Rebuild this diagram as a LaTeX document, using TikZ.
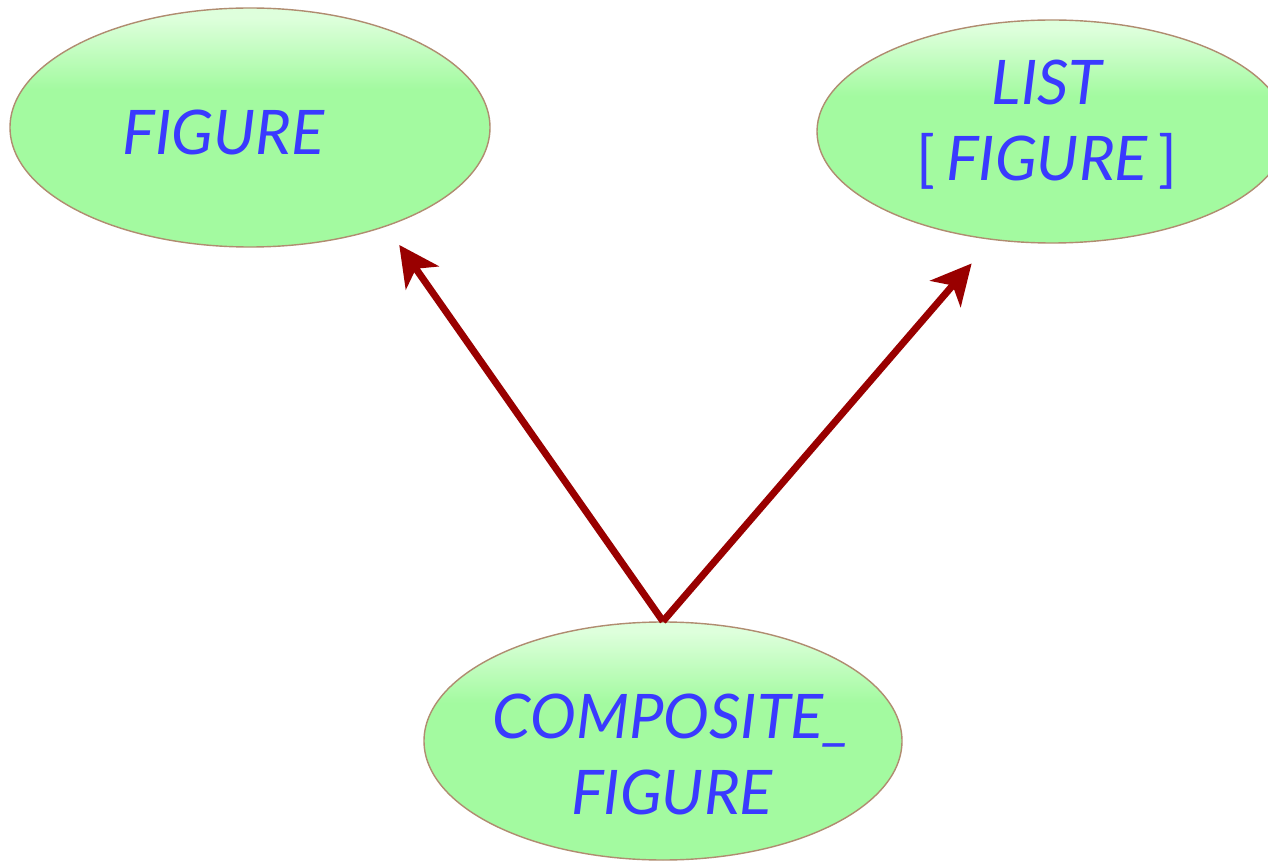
\documentclass[tikz,border=0pt]{standalone}
\usepackage{fontspec}
\setmainfont{Lato}
\usetikzlibrary{arrows.meta,shapes.geometric}

\definecolor{ovalgreen}{RGB}{163,250,160}
\definecolor{ovalhigh}{RGB}{222,255,220}
\definecolor{ovalrim}{RGB}{176,140,112}
\definecolor{classblue}{RGB}{58,58,255}
\definecolor{inheritred}{RGB}{153,0,0}

% light band along the top of each oval
\pgfdeclareverticalshading{ovalshade}{100bp}{color(0bp)=(ovalgreen); color(58bp)=(ovalgreen); color(73bp)=(ovalhigh); color(100bp)=(ovalhigh)}

\tikzset{
  classoval/.style={ellipse, shading=ovalshade, draw=ovalrim, line width=0.8pt, inner sep=0pt},
  classname/.style={align=center, text=classblue, inner sep=0pt,
    font=\fontsize{35}{43}\selectfont\itshape},
  inherit/.style={-{Stealth[length=0.8cm, width=0.8cm, inset=0.22cm]},
    line width=0.14cm, draw=inheritred}
}

\begin{document}
\begin{tikzpicture}
    \clip (0,0) rectangle (25.36,17.22);
    \fill[white] (0,0) rectangle (25.36,17.22);

    % the three classes
    \node[classoval, minimum width=9.6cm, minimum height=4.78cm] (figure) at (5.0,14.67) {};
    \node[classoval, minimum width=9.4cm, minimum height=4.46cm] (list) at (21.04,14.59) {};
    \node[classoval, minimum width=9.56cm, minimum height=4.76cm] (composite) at (13.26,2.4) {};

    % class names
    \node[classname] (figurename) at ([xshift=-0.53cm, yshift=-0.09cm]figure.center) {FIGURE};
    \node[classname] (listname) at ([xshift=-0.1cm, yshift=0.14cm]list.center)
        {LIST\\{\upshape[}\,FIGURE\,{\upshape]}};
    \node[classname] (compositename) at ([xshift=0.18cm, yshift=-0.27cm]composite.center) {COMPOSITE\_\\FIGURE};

    % inheritance links
    \draw[inherit, shorten >=0.45cm] (composite.north) -- (figure.-36.5);
    \draw[inherit, shorten >=0.62cm] (composite.north) -- (list.-119);
\end{tikzpicture}
\end{document}
